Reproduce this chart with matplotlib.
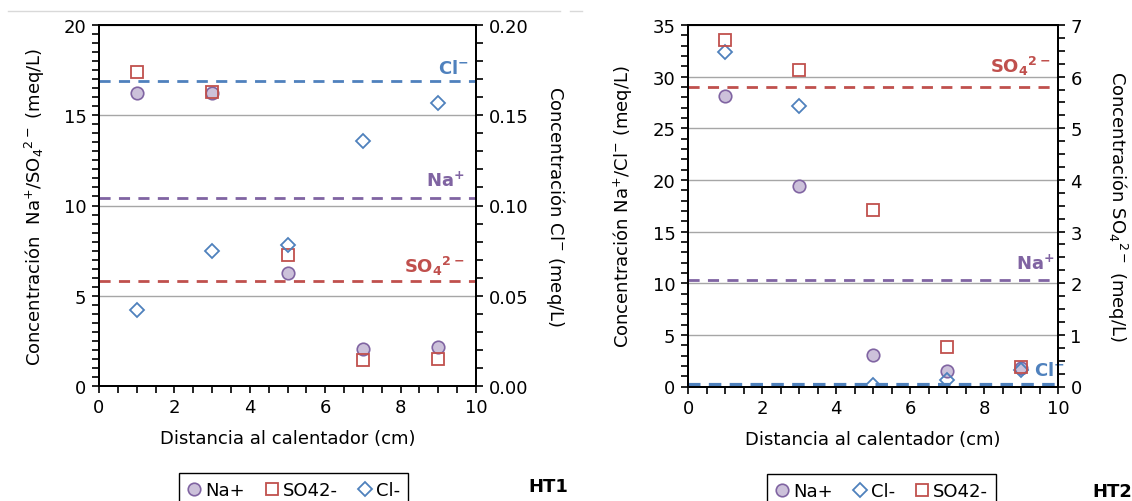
import matplotlib.pyplot as plt
from matplotlib.lines import Line2D
from matplotlib.ticker import MultipleLocator

# distance to heater (cm)
dist = [1, 3, 5, 7, 9]

# HT1 (Na+ and SO4 on left axis, Cl- on right axis)
ht1_na = [16.26, 16.26, 6.26, 2.03, 2.16]
ht1_so4 = [17.39, 16.3, 7.23, 1.42, 1.47]
ht1_cl = [0.042, 0.075, 0.078, 0.136, 0.157]
ht1_ref_na = 10.43
ht1_ref_so4 = 5.81
ht1_ref_cl = 0.169

# HT2 (Na+ and Cl- on left axis, SO4 on right axis)
ht2_na = [28.16, 19.40, 3.07, 1.47, 1.8]
ht2_cl = [32.39, 27.13, 0.15, 0.63, 1.6]
ht2_so4 = [6.70, 6.13, 3.41, 0.77, 0.37]
ht2_ref_na = 10.32
ht2_ref_so4 = 5.8
ht2_ref_cl = 0.1

C_NA = '#8064a2'
C_NA_FILL = '#ccc1da'
C_SO4 = '#c0504d'
C_CL = '#4f81bd'
GRID = '#a6a6a6'
FS = 13

plt.rcParams['font.family'] = ['DejaVu Sans']
plt.rcParams['mathtext.default'] = 'regular'

fig = plt.figure(figsize=(11.32, 5.02), dpi=100)

# thin page line on top
fig.add_artist(Line2D([8 / 1132, 560 / 1132], [1 - 12 / 502] * 2, color='#d9d9d9', lw=1))
fig.add_artist(Line2D([570 / 1132, 582 / 1132], [1 - 12 / 502] * 2, color='#d9d9d9', lw=1))


def style_axes(ax, ax2, ymax, ymaj, ymin, y2max, y2maj, y2min, y2fmt):
    ax.set_xlim(0, 10)
    ax.set_ylim(0, ymax)
    ax2.set_ylim(0, y2max)
    ax.xaxis.set_major_locator(MultipleLocator(2))
    ax.xaxis.set_minor_locator(MultipleLocator(0.5))
    ax.yaxis.set_major_locator(MultipleLocator(ymaj))
    ax.yaxis.set_minor_locator(MultipleLocator(ymin))
    ax2.yaxis.set_major_locator(MultipleLocator(y2maj))
    ax2.yaxis.set_minor_locator(MultipleLocator(y2min))
    ax2.yaxis.set_major_formatter(y2fmt)
    for a in (ax, ax2):
        for s in a.spines.values():
            s.set_linewidth(1.4)
            s.set_color('black')
        a.tick_params(which='both', direction='out', length=5, width=1.2, labelsize=FS, pad=4)
    ax.grid(axis='y', which='major', color=GRID, lw=1)
    ax.set_axisbelow(True)
    ax.set_xlabel('Distancia al calentador (cm)', fontsize=FS)
    ax.xaxis.set_label_coords(0.5, -0.12)


# ---------------- HT1 ----------------
ax = fig.add_axes([99 / 1132, 1 - 387 / 502, 377 / 1132, 361 / 502])
ax2 = ax.twinx()
style_axes(ax, ax2, 20, 5, 0.5, 0.20, 0.05, 0.01, '{x:.2f}')

ax.axhline(ht1_ref_na, color=C_NA, lw=2, ls=(0, (4, 3)))
ax.axhline(ht1_ref_so4, color=C_SO4, lw=2, ls=(0, (4, 3)))
ax2.axhline(ht1_ref_cl, color=C_CL, lw=2, ls=(0, (4, 3)))

h_na, = ax.plot(dist, ht1_na, 'o', ms=9, mfc=C_NA_FILL, mec=C_NA, mew=1.2, label='Na+')
h_so4, = ax.plot(dist, ht1_so4, 's', ms=9, mfc='none', mec=C_SO4, mew=1.3, label='SO42-')
h_cl, = ax2.plot(dist, ht1_cl, 'D', ms=7.5, mfc='none', mec=C_CL, mew=1.3, label='Cl-')

ax.text(9.8, 17.1, 'Cl$^{-}$', color=C_CL, fontsize=FS, fontweight='bold', ha='right', va='bottom')
ax.text(9.7, 10.9, 'Na$^{+}$', color=C_NA, fontsize=FS, fontweight='bold', ha='right', va='bottom')
ax.text(9.7, 6.05, 'SO$_{4}$$^{2-}$', color=C_SO4, fontsize=FS, fontweight='bold', ha='right', va='bottom')

ax.set_ylabel('Concentración  Na$^{+}$/SO$_{4}$$^{2-}$ (meq/L)', fontsize=FS, va='center')
ax.yaxis.set_label_coords(-0.17, 0.5)
ax2.set_ylabel('Concentración Cl$^{-}$ (meq/L)', fontsize=FS, rotation=270, va='center')
ax2.yaxis.set_label_coords(1.21, 0.5)

fig.legend(handles=[h_na, h_so4, h_cl], loc='upper left', bbox_to_anchor=(170 / 1132, 1 - 465 / 502),
           ncol=3, fontsize=FS, frameon=True, fancybox=False, edgecolor='black', framealpha=1,
           handlelength=0.8, handletextpad=0.2, columnspacing=1.1, borderpad=0.45)
fig.text(528 / 1132, 1 - 487 / 502, 'HT1', fontsize=FS, fontweight='bold', va='center')

# ---------------- HT2 ----------------
bx = fig.add_axes([688 / 1132, 1 - 387.5 / 502, 370 / 1132, 361.5 / 502])
bx2 = bx.twinx()
style_axes(bx, bx2, 35, 5, 1, 7, 1, 0.25, '{x:.0f}')

bx2.axhline(ht2_ref_so4, color=C_SO4, lw=2, ls=(0, (4, 3)))
bx.axhline(ht2_ref_na, color=C_NA, lw=2, ls=(0, (4, 3)))
bx.axhline(ht2_ref_cl, color=C_CL, lw=3, ls=(0, (3, 2)))

g_na, = bx.plot(dist, ht2_na, 'o', ms=9, mfc=C_NA_FILL, mec=C_NA, mew=1.2, label='Na+')
g_cl, = bx.plot(dist, ht2_cl, 'D', ms=7.5, mfc='none', mec=C_CL, mew=1.3, label='Cl-')
g_so4, = bx2.plot(dist, ht2_so4, 's', ms=9, mfc='none', mec=C_SO4, mew=1.3, label='SO42-')

bx.text(9.8, 30.0, 'SO$_{4}$$^{2-}$', color=C_SO4, fontsize=FS, fontweight='bold', ha='right', va='bottom')
bx.text(9.9, 11.0, 'Na$^{+}$', color=C_NA, fontsize=FS, fontweight='bold', ha='right', va='bottom')
bx.text(9.35, 1.6, 'Cl$^{-}$', color=C_CL, fontsize=FS, fontweight='bold', ha='left', va='center')

bx.set_ylabel('Concentración Na$^{+}$/Cl$^{-}$ (meq/L)', fontsize=FS, va='center')
bx.yaxis.set_label_coords(-0.178, 0.5)
bx2.set_ylabel('Concentración SO$_{4}$$^{2-}$ (meq/L)', fontsize=FS, rotation=270, va='center')
bx2.yaxis.set_label_coords(1.16, 0.5)

fig.legend(handles=[g_na, g_cl, g_so4], loc='upper left', bbox_to_anchor=(758 / 1132, 1 - 466 / 502),
           ncol=3, fontsize=FS, frameon=True, fancybox=False, edgecolor='black', framealpha=1,
           handlelength=0.8, handletextpad=0.2, columnspacing=1.1, borderpad=0.45)
fig.text(1092 / 1132, 1 - 492 / 502, 'HT2', fontsize=FS, fontweight='bold', va='center')

fig.savefig('out.png', dpi=100)
